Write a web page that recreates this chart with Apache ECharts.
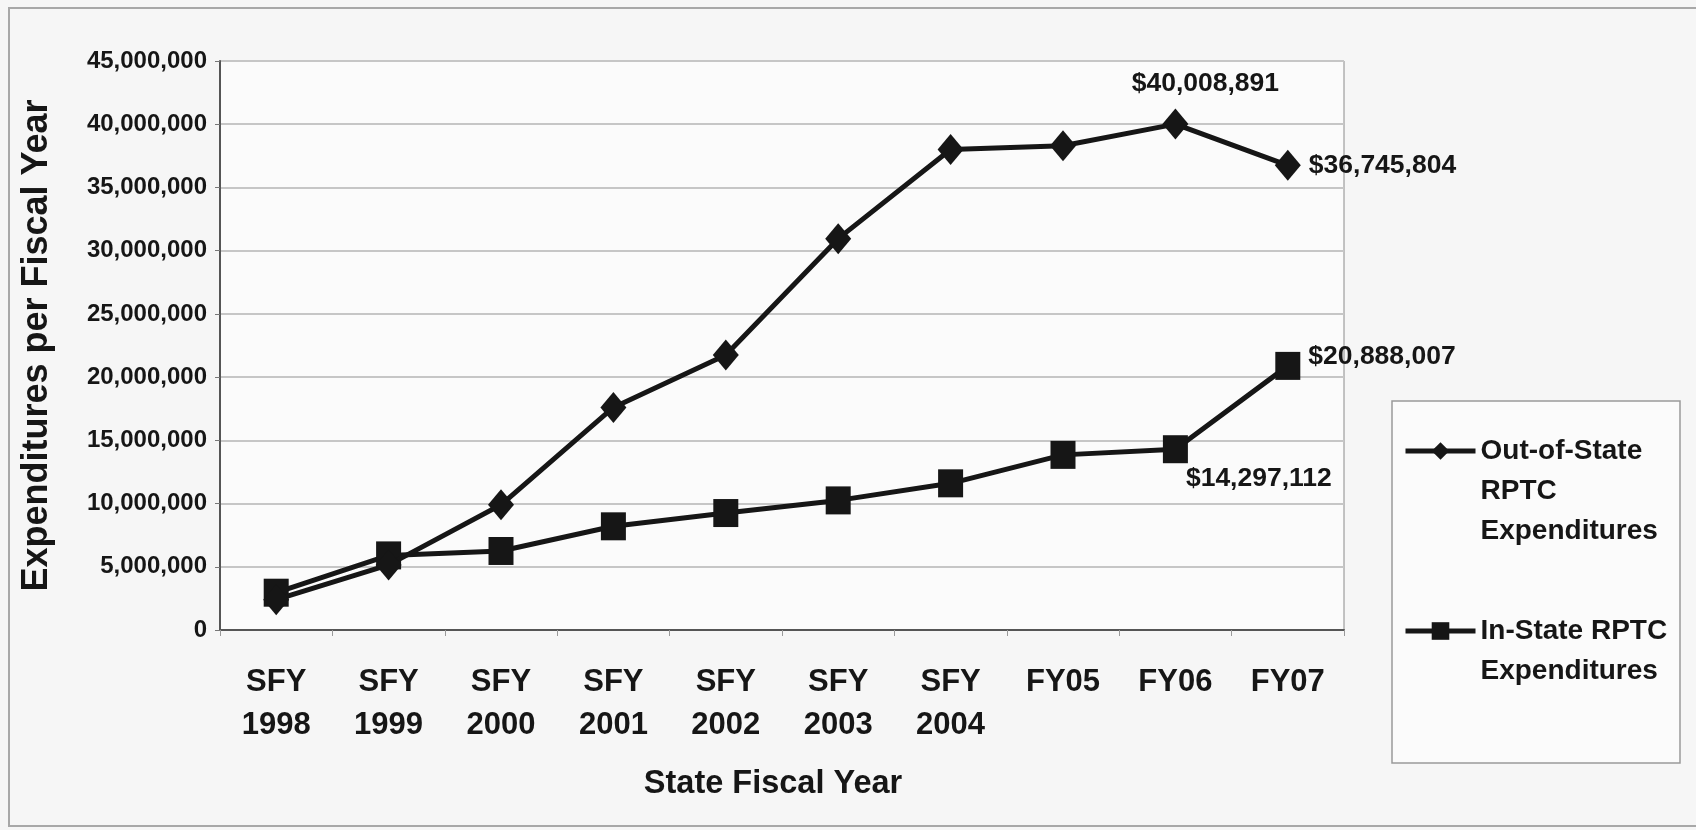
<!DOCTYPE html>
<html>
<head>
<meta charset="utf-8">
<script src="https://cdn.jsdelivr.net/npm/echarts@6/dist/echarts.min.js"></script>
<style>
html,body{margin:0;padding:0;background:#f6f6f6;}
#chart{width:1696px;height:830px;}
</style>
</head>
<body>
<div id="chart"></div>
<script>
var categories = ['SFY\n1998','SFY\n1999','SFY\n2000','SFY\n2001','SFY\n2002','SFY\n2003','SFY\n2004','FY05','FY06','FY07'];
var outOfState = [2400000, 5150000, 9900000, 17600000, 21750000, 30950000, 38000000, 38300000, 40008891, 36745804];
var inState = [2950000, 5900000, 6250000, 8200000, 9250000, 10250000, 11600000, 13850000, 14297112, 20888007];
var seriesNames = ['Out-of-State RPTC Expenditures', 'In-State RPTC Expenditures'];
var legendLabels = ['\n\nOut-of-State\nRPTC\nExpenditures', '\nIn-State RPTC\nExpenditures'];
var yTitle = 'Expenditures per Fiscal Year';
var xTitle = 'State Fiscal Year';

var FONT = '"Liberation Sans", Arial, sans-serif';
var INK = '#161616';

function money(v){ return '$' + Number(v).toLocaleString('en-US'); }
var lblBase = {show:true, fontFamily:FONT, fontWeight:'bold', fontSize:26.5, color:INK, formatter:function(p){return money(p.value);}};

var outData = outOfState.map(function(v,i){
  var d = {value:v};
  if (i === 8) d.label = Object.assign({}, lblBase, {position:'top', distance:6, offset:[30,-5]});
  if (i === 9) d.label = Object.assign({}, lblBase, {position:'right', distance:8, offset:[0,0]});
  return d;
});
var inData = inState.map(function(v,i){
  var d = {value:v};
  if (i === 8) d.label = Object.assign({}, lblBase, {position:'right', distance:2, offset:[-4,29]});
  if (i === 9) d.label = Object.assign({}, lblBase, {position:'right', distance:8, offset:[0,-9]});
  return d;
});

var chart = echarts.init(document.getElementById('chart'), null, {renderer:'canvas'});
chart.setOption({
  backgroundColor:'#f6f6f6',
  animation:false,
  grid:{left:220, right:352, top:61, bottom:200, show:true, backgroundColor:'#fbfbfb', borderColor:'#8a8a8a', borderWidth:1},
  xAxis:{
    type:'category', data:categories, boundaryGap:true,
    axisLine:{lineStyle:{color:'#555', width:2}},
    axisTick:{show:true, length:6, lineStyle:{color:'#999', width:1}},
    axisLabel:{fontFamily:FONT, fontWeight:'bold', fontSize:31, color:INK, lineHeight:43, margin:31, interval:0},
    name:xTitle, nameLocation:'middle', nameGap:138,
    nameTextStyle:{fontFamily:FONT, fontWeight:'bold', fontSize:32.5, color:INK, padding:[0,18,0,0]}
  },
  yAxis:{
    type:'value', min:0, max:45000000, interval:5000000,
    axisLine:{show:true, lineStyle:{color:'#555', width:2}},
    axisTick:{show:true, length:5, lineStyle:{color:'#777'}},
    splitLine:{lineStyle:{color:'#c6c6c6', width:2}},
    axisLabel:{fontFamily:FONT, fontWeight:'bold', fontSize:24, color:INK, margin:13,
      formatter:function(v){return Number(v).toLocaleString('en-US');}},
    name:yTitle, nameLocation:'middle', nameGap:165,
    nameTextStyle:{fontFamily:FONT, fontWeight:'bold', fontSize:36, color:INK}
  },
  legend:{
    orient:'vertical', left:1403, top:351, padding:0, itemWidth:70, itemHeight:22, itemGap:20,
    data:[seriesNames[0], seriesNames[1]],
    lineStyle:{width:5},
    formatter:function(n){ return legendLabels[seriesNames.indexOf(n)]; },
    textStyle:{fontFamily:FONT, fontWeight:'bold', fontSize:28, color:INK, lineHeight:40}
  },
  graphic:[
    {type:'rect', shape:{x:1392, y:401, width:288, height:362}, style:{fill:'#fbfbfb', stroke:'#9a9a9a', lineWidth:1.5}, z:-1},
    {type:'rect', shape:{x:9, y:8, width:1700, height:818}, style:{fill:'none', stroke:'#a8a8a8', lineWidth:2}, z:-2}
  ],
  series:[
    {name:seriesNames[0], type:'line', data:outData, symbol:'diamond', symbolSize:[26,31],
     lineStyle:{color:INK, width:5}, itemStyle:{color:INK}, z:3},
    {name:seriesNames[1], type:'line', data:inData, symbol:'rect', symbolSize:[25,28],
     lineStyle:{color:INK, width:5}, itemStyle:{color:INK}, z:2}
  ]
});
</script>
</body>
</html>
